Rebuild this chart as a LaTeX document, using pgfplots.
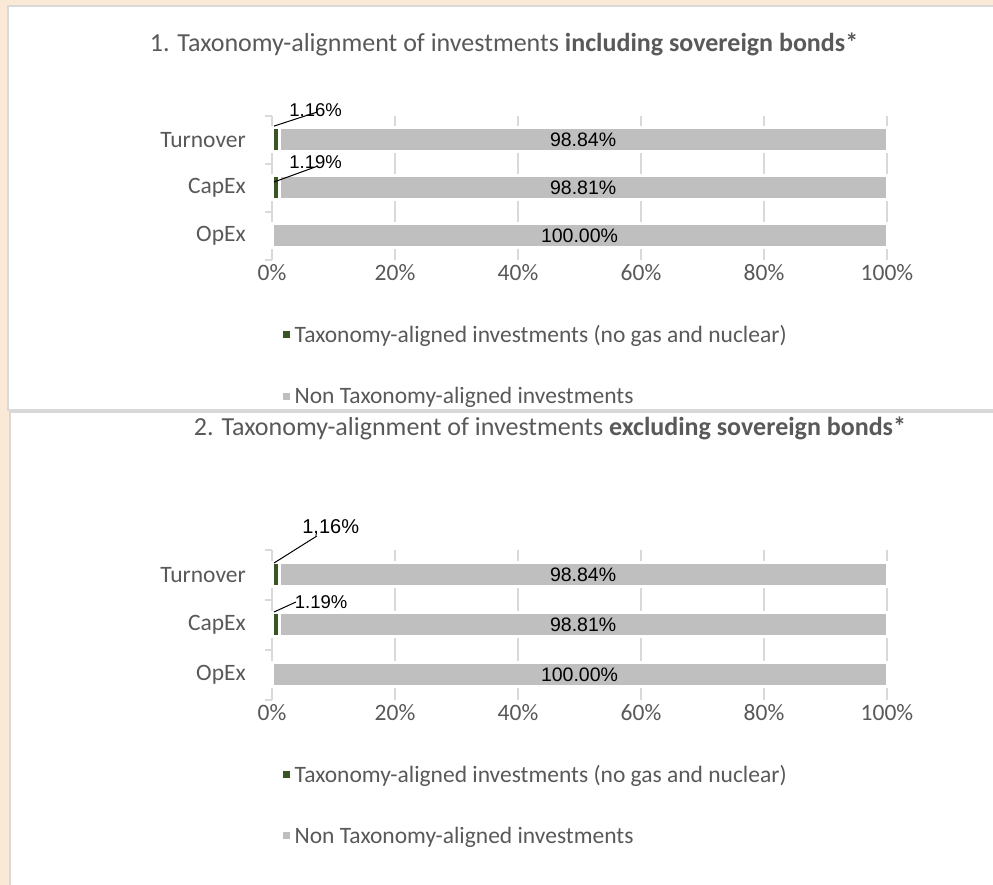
\documentclass[border=0pt]{standalone}
\usepackage{fontspec}
\setmainfont{Carlito}
\newfontfamily\arialf{Liberation Sans}
\usepackage{pgfplots}
\pgfplotsset{compat=1.18}
\definecolor{bg}{HTML}{FBE9D8}
\definecolor{frame}{HTML}{D9D9D9}
\definecolor{txt}{HTML}{595959}
\definecolor{taxgreen}{HTML}{375623}
\definecolor{nongrey}{HTML}{BFBFBF}

\tikzset{barlab/.style={font=\arialf\fontsize{18.5}{20}\selectfont, text=black, inner sep=0pt},
  biglab/.style={font=\arialf\fontsize{19.5}{22}\selectfont, text=black, inner sep=0pt}}

\pgfplotsset{
  taxbar/.style={
    xbar stacked, scale only axis, width=615pt,
    xmin=0, xmax=100, ymin=-0.5, ymax=2.5,
    bar width=24pt, clip=false,
    ytick={0,1,2}, yticklabels={OpEx,CapEx,Turnover},
    minor ytick={-0.5,0.5,1.5,2.5},
    xtick={0,20,40,60,80,100}, xticklabels={0\%,20\%,40\%,60\%,80\%,100\%},
    axis lines*=left,
    x axis line style={draw=none},
    y axis line style={draw=frame, line width=1.3pt, -},
    major tick length=0pt, minor tick length=7pt, tick align=outside,
    minor y tick style={draw=frame, line width=1.3pt},
    xmajorgrids, grid style={draw=frame, line width=1.3pt},
    ticklabel style={font=\fontsize{23.5}{28}\selectfont, text=txt, inner sep=0pt},
    xticklabel style={yshift=-4pt},
    yticklabel style={xshift=-26pt},
    legend style={draw=none, fill=none, inner sep=0pt, row sep=39pt,
      font=\fontsize{23.5}{28}\selectfont, text=txt,
      nodes={inner sep=2pt}, legend cell align=left},
    legend image code/.code={\fill[##1, draw=none] (0pt,-3.5pt) rectangle (7pt,3.5pt);},
  },
  green/.style={fill=taxgreen, draw=white, line width=3pt},
  grey/.style={fill=nongrey, draw=white, line width=3pt},
}

\begin{document}
\begin{tikzpicture}[x=1pt,y=1pt]
\useasboundingbox (0,0) rectangle (993,885);
\fill[bg] (0,0) rectangle (993,885);
\filldraw[fill=white, draw=frame, line width=1.5pt] (8,879) rectangle (1000,475);
\filldraw[fill=white, draw=frame, line width=1.5pt] (10,473) rectangle (1000,-5);

\node[text=txt, font=\fontsize{26}{30}\selectfont] at (504,841)
  {1. Taxonomy-alignment of investments \textbf{including sovereign bonds*}};
\node[text=txt, font=\fontsize{26}{30}\selectfont] at (550,457)
  {2. Taxonomy-alignment of investments \textbf{excluding sovereign bonds*}};

% panel 1
\begin{axis}[taxbar, at={(272pt,625pt)}, anchor=south west, height=144pt,
  legend style={at={(0.017,-0.44)}, anchor=north west}]
\addplot[green] coordinates {(0,0) (1.19,1) (1.16,2)};
\addplot[grey] coordinates {(100,0) (98.81,1) (98.84,2)};
\legend{\hspace{3pt}Taxonomy-aligned investments (no gas and nuclear), \hspace{3pt}Non Taxonomy-aligned investments}
\coordinate (a1) at (axis cs:50.58,2);
\coordinate (a2) at (axis cs:50.6,1);
\coordinate (a3) at (axis cs:50,0);
\coordinate (a4) at (axis cs:2.8,2.62);
\coordinate (a5) at (axis cs:0.33,2.29);
\coordinate (a6) at (axis cs:7.3,2.58);
\coordinate (a7) at (axis cs:2.8,1.53);
\coordinate (a8) at (axis cs:0.33,1.125);
\coordinate (a9) at (axis cs:7.3,1.45);
\end{axis}
\node[biglab] at (a1) {98.84\%};
\node[biglab] at (a2) {98.81\%};
\node[biglab] at (a3) {100.00\%};
\node[barlab, anchor=west] at (a4) {1.16\%};
\draw[black, line width=1pt] (a5) -- (a6);
\node[barlab, anchor=west] at (a7) {1.19\%};
\draw[black, line width=1pt] (a8) -- (a9);

% panel 2
\begin{axis}[taxbar, at={(272pt,185pt)}, anchor=south west, height=150pt,
  legend style={at={(0.017,-0.42)}, anchor=north west}]
\addplot[green] coordinates {(0,0) (1.19,1) (1.16,2)};
\addplot[grey] coordinates {(100,0) (98.81,1) (98.84,2)};
\legend{\hspace{3pt}Taxonomy-aligned investments (no gas and nuclear), \hspace{3pt}Non Taxonomy-aligned investments}
\coordinate (b1) at (axis cs:50.58,2);
\coordinate (b2) at (axis cs:50.6,1);
\coordinate (b3) at (axis cs:50,0);
\coordinate (b4) at (axis cs:4.9,2.94);
\coordinate (b5) at (axis cs:0.33,2.24);
\coordinate (b6) at (axis cs:7.3,2.78);
\coordinate (b7) at (axis cs:3.7,1.46);
\coordinate (b8) at (axis cs:0.33,1.26);
\coordinate (b9) at (axis cs:3.9,1.46);
\end{axis}
\node[biglab] at (b1) {98.84\%};
\node[biglab] at (b2) {98.81\%};
\node[biglab] at (b3) {100.00\%};
\node[barlab, anchor=west, font=\arialf\fontsize{20}{22}\selectfont] at (b4) {1,16\%};
\draw[black, line width=1pt] (b5) -- (b6);
\node[barlab, anchor=west] at (b7) {1.19\%};
\draw[black, line width=1pt] (b8) -- (b9);
\end{tikzpicture}
\end{document}
